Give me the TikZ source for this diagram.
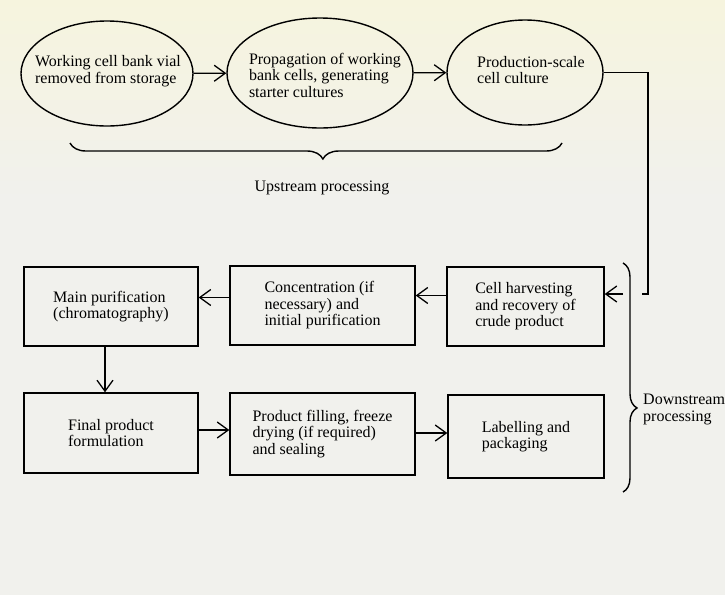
\documentclass[tikz,border=0pt]{standalone}
\usepackage{fontspec}
\setmainfont{Liberation Serif}
\usetikzlibrary{shapes.geometric,arrows.meta,decorations.pathreplacing}
\definecolor{paper}{RGB}{241,241,237}
\definecolor{papertop}{RGB}{246,244,222}
\tikzset{
  stage/.style={draw=black, line width=1.4pt, ellipse, inner sep=0pt},
  stepbox/.style={draw=black, line width=1.4pt, rectangle, inner sep=0pt, align=left,
    font=\fontsize{16}{16.5}\selectfont},
  arr/.style={line width=1.3pt, -{Straight Barb[length=11pt,width=16pt]}},
  link/.style={line width=1.3pt},
  bracestyle/.style={line width=1.4pt, decorate},
  lbl/.style={align=left, inner sep=0pt, font=\fontsize{16}{16.5}\selectfont}
}
\begin{document}
\begin{tikzpicture}[x=1pt, y=-1pt]
\fill[paper] (0,0) rectangle (725,595);
\shade[top color=papertop, bottom color=paper] (0,0) rectangle (725,200);
\useasboundingbox (0,0) rectangle (725,595);

% upstream ellipses
\node[stage, minimum width=172pt, minimum height=105pt] (e1) at (107,73.5) {};
\node[lbl] (e1t) at (108,71) {Working cell bank vial\\removed from storage};
\node[stage, minimum width=186pt, minimum height=110pt] (e2) at (320,73) {};
\node[lbl] (e2t) at (325,75) {Propagation of working\\bank cells, generating\\starter cultures};
\node[stage, minimum width=156pt, minimum height=105pt] (e3) at (525,72.5) {};
\node[lbl] (e3t) at (531,70) {Production-scale\\cell culture};

\draw[arr] (e1) -- (e2);
\draw[arr] (e2) -- (e3);

% upstream brace
\draw[bracestyle, decoration={brace, amplitude=16pt, aspect=0.486}] (562,143) -- (70,143);
\node[lbl] (up) at (322,188) {Upstream processing};

% downstream boxes
\node[stepbox, minimum width=174pt, minimum height=79pt] (mp) at (111,306.5)
  {Main purification\\(chromatography)};
\node[stepbox, minimum width=185pt, minimum height=79pt] (conc) at (322.5,305.5)
  {Concentration (if\\necessary) and\\initial purification};
\node[stepbox, minimum width=157pt, minimum height=79pt] (cell) at (525.5,306.5)
  {Cell harvesting\\and recovery of\\crude product};
\node[stepbox, minimum width=174pt, minimum height=80pt] (fin) at (111,433)
  {Final product\\formulation};
\node[stepbox, minimum width=185pt, minimum height=82pt] (pf) at (322.5,434)
  {Product filling, freeze\\drying (if required)\\and sealing};
\node[stepbox, minimum width=156pt, minimum height=83pt] (lab) at (526,436.5)
  {Labelling and\\packaging};

% feed from culture to harvesting
\coordinate (bend) at (648,294);
\coordinate (stub) at (642,294);
\coordinate (astart) at (623,294);
\draw[link] (e3.east) -| (bend) -- (stub);
\draw[arr] (astart) -- (astart -| cell.east);

% downstream arrows
\draw[arr] ([yshift=11pt]cell.west) -- ([yshift=11pt]cell.west -| conc.east);
\draw[arr] ([yshift=8pt]conc.west) -- ([yshift=8pt]conc.west -| mp.east);
\draw[arr] ([xshift=-6pt]mp.south) -- ([xshift=-6pt]mp.south |- fin.north);
\draw[arr] ([yshift=3pt]fin.east) -- ([yshift=3pt]fin.east -| pf.west);
\draw[arr] ([yshift=1pt]pf.east) -- ([yshift=1pt]pf.east -| lab.west);

% downstream brace
\draw[bracestyle, decoration={brace, amplitude=14pt, aspect=0.633}] (623,263) -- (623,492);
\node[lbl, anchor=west] (down) at (643,409.5) {Downstream\\processing};
\end{tikzpicture}
\end{document}
